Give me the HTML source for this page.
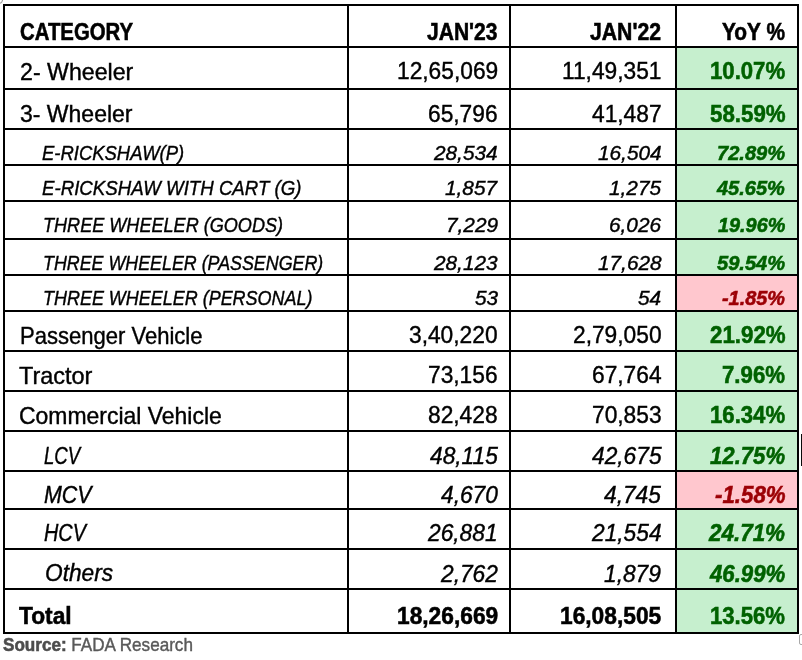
<!DOCTYPE html><html><head><meta charset="utf-8"><title>FADA Research</title><style>
html,body{margin:0;padding:0;background:#fff}
#p{position:relative;width:802px;height:660px;overflow:hidden;background:#fff;font-family:"Liberation Sans",sans-serif;color:#000}
.h,.v{position:absolute;background:#000}.h{left:3px;width:796px;height:2px}.v{top:4px;height:630px;width:2px}
.f{position:absolute;left:677px;width:120px}.g{background:#c6efce}.r{background:#ffc7ce}
.t{position:absolute;white-space:nowrap;line-height:1;height:1em;-webkit-text-stroke:0.4px currentColor}
.t.l{transform-origin:0 0}.t.rt{transform-origin:100% 0}
.b{font-weight:bold;-webkit-text-stroke-width:0.55px}.i{font-style:italic}.cg{color:#006100}.cr{color:#9c0006}
</style></head><body><div id="p">
<div class="f g" style="top:48px;height:40px"></div>
<div class="f g" style="top:90px;height:38px"></div>
<div class="f g" style="top:130px;height:34px"></div>
<div class="f g" style="top:166px;height:34px"></div>
<div class="f g" style="top:202px;height:36px"></div>
<div class="f g" style="top:240px;height:34px"></div>
<div class="f r" style="top:276px;height:34px"></div>
<div class="f g" style="top:312px;height:38px"></div>
<div class="f g" style="top:352px;height:38px"></div>
<div class="f g" style="top:392px;height:38px"></div>
<div class="f g" style="top:432px;height:38px"></div>
<div class="f r" style="top:472px;height:36px"></div>
<div class="f g" style="top:510px;height:38px"></div>
<div class="f g" style="top:550px;height:38px"></div>
<div class="f g" style="top:590px;height:42px"></div>
<div class="h" style="top:4px"></div>
<div class="h" style="top:46px"></div>
<div class="h" style="top:88px"></div>
<div class="h" style="top:128px"></div>
<div class="h" style="top:164px"></div>
<div class="h" style="top:200px"></div>
<div class="h" style="top:238px"></div>
<div class="h" style="top:274px"></div>
<div class="h" style="top:310px"></div>
<div class="h" style="top:350px"></div>
<div class="h" style="top:390px"></div>
<div class="h" style="top:430px"></div>
<div class="h" style="top:470px"></div>
<div class="h" style="top:508px"></div>
<div class="h" style="top:548px"></div>
<div class="h" style="top:588px"></div>
<div class="h" style="top:632px"></div>
<div class="v" style="left:3px"></div>
<div class="v" style="left:347px"></div>
<div class="v" style="left:509px"></div>
<div class="v" style="left:675px"></div>
<div class="v" style="left:797px"></div>
<div style="position:absolute;left:801px;top:434px;width:1px;height:32px;background:#0a0a0a"></div><div style="position:absolute;left:799px;top:634px;width:6px;height:11px;border:1px solid #a8a8a8;border-radius:2px;box-sizing:border-box"></div><div style="position:absolute;left:-5px;top:-4px;width:8px;height:8px;border:1px solid #8e8e8e;border-radius:50%;box-sizing:border-box"></div>
<div class="t l b" id="r0c1" style="left:19.60px;top:21.03px;font-size:23.30px;transform:scaleX(0.8737)">CATEGORY</div>
<div class="t l b" id="r0c2" style="left:427.30px;top:21.03px;font-size:23.30px;transform:scaleX(0.9031)">JAN'23</div>
<div class="t l b" id="r0c3" style="left:590.30px;top:21.03px;font-size:23.30px;transform:scaleX(0.9108)">JAN'22</div>
<div class="t l b" id="r0c4" style="left:722.20px;top:21.03px;font-size:23.30px;transform:scaleX(0.8955)">YoY %</div>
<div class="t l " id="r1c1" style="left:20.00px;top:59.63px;font-size:24.00px;transform:scaleX(0.9653)">2- Wheeler</div>
<div class="t l " id="r1c2" style="left:396.60px;top:60.48px;font-size:23.00px;transform:scaleX(0.9890)">12,65,069</div>
<div class="t l " id="r1c3" style="left:561.90px;top:60.48px;font-size:23.00px;transform:scaleX(0.9890)">11,49,351</div>
<div class="t l b cg" id="r1c4" style="left:710.10px;top:60.48px;font-size:23.00px;transform:scaleX(0.9628)">10.07%</div>
<div class="t l " id="r2c1" style="left:20.00px;top:101.83px;font-size:24.00px;transform:scaleX(0.9585)">3- Wheeler</div>
<div class="t l " id="r2c2" style="left:428.23px;top:102.68px;font-size:23.00px;transform:scaleX(0.9890)">65,796</div>
<div class="t l " id="r2c3" style="left:591.83px;top:102.68px;font-size:23.00px;transform:scaleX(0.9890)">41,487</div>
<div class="t l b cg" id="r2c4" style="left:709.60px;top:102.68px;font-size:23.00px;transform:scaleX(0.9692)">58.59%</div>
<div class="t l i" id="r3c1" style="left:42.30px;top:142.97px;font-size:20.30px;transform:scaleX(0.9099)">E-RICKSHAW(P)</div>
<div class="t l i" id="r3c2" style="left:434.16px;top:142.97px;font-size:20.30px;transform:scaleX(1.0250)">28,534</div>
<div class="t l i" id="r3c3" style="left:597.76px;top:142.97px;font-size:20.30px;transform:scaleX(1.0250)">16,504</div>
<div class="t l b i cg" id="r3c4" style="left:717.00px;top:142.97px;font-size:20.30px;transform:scaleX(0.9906)">72.89%</div>
<div class="t l i" id="r4c1" style="left:42.30px;top:178.17px;font-size:20.30px;transform:scaleX(0.9199)">E-RICKSHAW WITH CART (G)</div>
<div class="t l i" id="r4c2" style="left:445.08px;top:178.17px;font-size:20.30px;transform:scaleX(1.0250)">1,857</div>
<div class="t l i" id="r4c3" style="left:609.27px;top:178.17px;font-size:20.30px;transform:scaleX(1.0250)">1,275</div>
<div class="t l b i cg" id="r4c4" style="left:717.34px;top:178.17px;font-size:20.30px;transform:scaleX(0.9857)">45.65%</div>
<div class="t l i" id="r5c1" style="left:43.10px;top:214.97px;font-size:20.30px;transform:scaleX(0.8914)">THREE WHEELER (GOODS)</div>
<div class="t l i" id="r5c2" style="left:445.73px;top:214.97px;font-size:20.30px;transform:scaleX(1.0250)">7,229</div>
<div class="t l i" id="r5c3" style="left:609.32px;top:214.97px;font-size:20.30px;transform:scaleX(1.0250)">6,026</div>
<div class="t l b i cg" id="r5c4" style="left:717.80px;top:214.97px;font-size:20.30px;transform:scaleX(0.9790)">19.96%</div>
<div class="t l i" id="r6c1" style="left:43.10px;top:252.77px;font-size:20.30px;transform:scaleX(0.8798)">THREE WHEELER (PASSENGER)</div>
<div class="t l i" id="r6c2" style="left:434.16px;top:252.77px;font-size:20.30px;transform:scaleX(1.0250)">28,123</div>
<div class="t l i" id="r6c3" style="left:597.76px;top:252.77px;font-size:20.30px;transform:scaleX(1.0250)">17,628</div>
<div class="t l b i cg" id="r6c4" style="left:717.00px;top:252.77px;font-size:20.30px;transform:scaleX(0.9906)">59.54%</div>
<div class="t l i" id="r7c1" style="left:43.10px;top:288.47px;font-size:20.30px;transform:scaleX(0.8856)">THREE WHEELER (PERSONAL)</div>
<div class="t l i" id="r7c2" style="left:474.65px;top:288.47px;font-size:20.30px;transform:scaleX(1.0250)">53</div>
<div class="t l i" id="r7c3" style="left:638.25px;top:288.47px;font-size:20.30px;transform:scaleX(1.0250)">54</div>
<div class="t l b i cr" id="r7c4" style="left:722.20px;top:288.47px;font-size:20.30px;transform:scaleX(0.9795)">-1.85%</div>
<div class="t l " id="r8c1" style="left:20.30px;top:324.33px;font-size:24.00px;transform:scaleX(0.9180)">Passenger Vehicle</div>
<div class="t l " id="r8c2" style="left:409.26px;top:324.18px;font-size:23.00px;transform:scaleX(0.9890)">3,40,220</div>
<div class="t l " id="r8c3" style="left:572.86px;top:324.18px;font-size:23.00px;transform:scaleX(0.9890)">2,79,050</div>
<div class="t l b cg" id="r8c4" style="left:709.60px;top:324.18px;font-size:23.00px;transform:scaleX(0.9692)">21.92%</div>
<div class="t l " id="r9c1" style="left:19.40px;top:364.43px;font-size:24.00px;transform:scaleX(0.9771)">Tractor</div>
<div class="t l " id="r9c2" style="left:428.23px;top:364.28px;font-size:23.00px;transform:scaleX(0.9890)">73,156</div>
<div class="t l " id="r9c3" style="left:591.83px;top:364.28px;font-size:23.00px;transform:scaleX(0.9890)">67,764</div>
<div class="t l b cg" id="r9c4" style="left:722.20px;top:364.28px;font-size:23.00px;transform:scaleX(0.9660)">7.96%</div>
<div class="t l " id="r10c1" style="left:19.40px;top:404.43px;font-size:24.00px;transform:scaleX(0.9563)">Commercial Vehicle</div>
<div class="t l " id="r10c2" style="left:428.23px;top:404.28px;font-size:23.00px;transform:scaleX(0.9890)">82,428</div>
<div class="t l " id="r10c3" style="left:591.83px;top:404.28px;font-size:23.00px;transform:scaleX(0.9890)">70,853</div>
<div class="t l b cg" id="r10c4" style="left:710.10px;top:404.28px;font-size:23.00px;transform:scaleX(0.9628)">16.34%</div>
<div class="t l i" id="r11c1" style="left:44.40px;top:444.78px;font-size:23.00px;transform:scaleX(0.8079)">LCV</div>
<div class="t l i" id="r11c2" style="left:429.86px;top:444.78px;font-size:23.00px;transform:scaleX(0.9890)">48,115</div>
<div class="t l i" id="r11c3" style="left:591.76px;top:444.78px;font-size:23.00px;transform:scaleX(0.9890)">42,675</div>
<div class="t l b i cg" id="r11c4" style="left:710.10px;top:444.78px;font-size:23.00px;transform:scaleX(0.9628)">12.75%</div>
<div class="t l i" id="r12c1" style="left:44.20px;top:483.88px;font-size:23.00px;transform:scaleX(0.9319)">MCV</div>
<div class="t l i" id="r12c2" style="left:440.88px;top:483.88px;font-size:23.00px;transform:scaleX(0.9890)">4,670</div>
<div class="t l i" id="r12c3" style="left:604.41px;top:483.88px;font-size:23.00px;transform:scaleX(0.9890)">4,745</div>
<div class="t l b i cr" id="r12c4" style="left:714.60px;top:483.88px;font-size:23.00px;transform:scaleX(0.9688)">-1.58%</div>
<div class="t l i" id="r13c1" style="left:44.20px;top:522.18px;font-size:23.00px;transform:scaleX(0.8638)">HCV</div>
<div class="t l i" id="r13c2" style="left:428.23px;top:522.18px;font-size:23.00px;transform:scaleX(0.9890)">26,881</div>
<div class="t l i" id="r13c3" style="left:591.83px;top:522.18px;font-size:23.00px;transform:scaleX(0.9890)">21,554</div>
<div class="t l b i cg" id="r13c4" style="left:709.16px;top:522.18px;font-size:23.00px;transform:scaleX(0.9748)">24.71%</div>
<div class="t l i" id="r14c1" style="left:44.50px;top:562.04px;font-size:23.40px;transform:scaleX(0.9698)">Others</div>
<div class="t l i" id="r14c2" style="left:440.88px;top:562.78px;font-size:23.00px;transform:scaleX(0.9890)">2,762</div>
<div class="t l i" id="r14c3" style="left:604.48px;top:562.78px;font-size:23.00px;transform:scaleX(0.9890)">1,879</div>
<div class="t l b i cg" id="r14c4" style="left:709.88px;top:562.78px;font-size:23.00px;transform:scaleX(0.9656)">46.99%</div>
<div class="t l b" id="r15c1" style="left:18.90px;top:603.93px;font-size:24.00px;transform:scaleX(0.9469)">Total</div>
<div class="t l b" id="r15c2" style="left:396.60px;top:604.53px;font-size:23.30px;transform:scaleX(0.9762)">18,26,669</div>
<div class="t l b" id="r15c3" style="left:560.20px;top:604.53px;font-size:23.30px;transform:scaleX(0.9762)">16,08,505</div>
<div class="t l b cg" id="r15c4" style="left:710.20px;top:604.53px;font-size:23.30px;transform:scaleX(0.9491)">13.56%</div>
<div class="t l" style="left:3.30px;top:636.53px;font-size:17.80px;color:#595959;transform:scaleX(0.9608)"><span class="b" style="color:#4d4d4d">Source:</span> FADA Research</div>
</div></body></html>
